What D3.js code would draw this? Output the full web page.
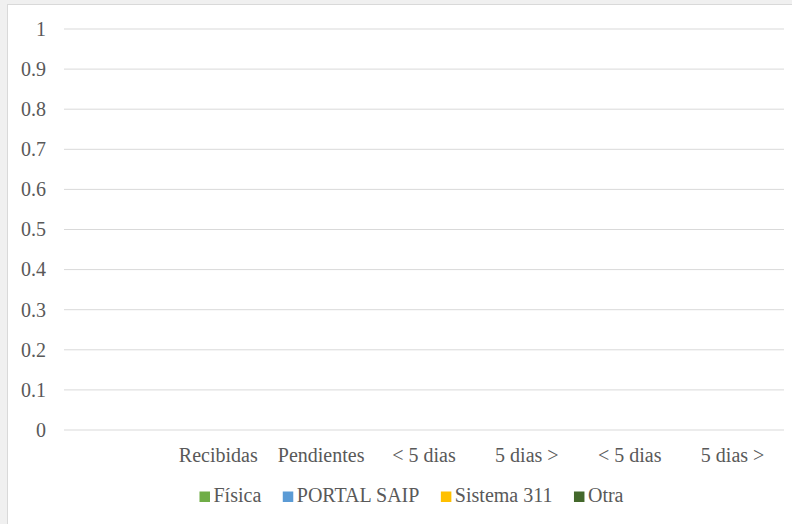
<!DOCTYPE html>
<html><head><meta charset="utf-8">
<script src="https://cdn.jsdelivr.net/npm/d3@7"></script>
<style>
html,body{margin:0;padding:0;background:#f0f0f0;}
svg{display:block;}
</style></head>
<body>
<script>
const categories = ["", "Recibidas", "Pendientes", "< 5 dias", "5 dias >", "< 5 dias", "5 dias >"];
const seriesNames = ["Física", "PORTAL SAIP", "Sistema 311", "Otra"];
const seriesColors = ["#70AD47", "#5B9BD5", "#FFC000", "#43682B"];
const fisica = [0, 0, 0, 0, 0, 0, 0];
const portalSaip = [0, 0, 0, 0, 0, 0, 0];
const sistema311 = [0, 0, 0, 0, 0, 0, 0];
const otra = [0, 0, 0, 0, 0, 0, 0];
const yTicks = [0, 0.1, 0.2, 0.3, 0.4, 0.5, 0.6, 0.7, 0.8, 0.9, 1];

const seriesValues = [fisica, portalSaip, sistema311, otra];
const W = 792, H = 524;
const FONT = "'Liberation Serif', 'Times New Roman', serif";
const FS = "20px";
const TXT = "#595959";

const svg = d3.select("body").append("svg").attr("width", W).attr("height", H);
svg.append("rect").attr("x", 0).attr("y", 0).attr("width", W).attr("height", H).attr("fill", "#f0f0f0");
svg.append("rect").attr("x", 7.5).attr("y", 4.5).attr("width", W).attr("height", H)
  .attr("fill", "#ffffff").attr("stroke", "#d9d9d9").attr("stroke-width", 1);

const plot = {left: 64, right: 784, top: 28.5, bottom: 429.5};
const x = d3.scaleBand().domain(d3.range(categories.length)).range([plot.left, plot.right]).paddingInner(0).paddingOuter(0);
const y = d3.scaleLinear().domain([0, 1]).range([plot.bottom, plot.top]);
const xs = d3.scaleBand().domain(d3.range(seriesNames.length)).range([0, x.bandwidth()]).padding(0.2);

// gridlines
const yAxis = d3.axisLeft(y).tickValues(yTicks).tickSize(-(plot.right - plot.left)).tickPadding(18)
  .tickFormat(d => d3.format("")(+d.toFixed(1)));
const ga = svg.append("g").attr("transform", `translate(${plot.left},0)`).call(yAxis);
ga.select(".domain").remove();
ga.selectAll(".tick line").attr("stroke", "#d9d9d9").attr("stroke-width", 1);
ga.selectAll(".tick text").attr("fill", TXT).style("font-family", FONT).style("font-size", FS).attr("dy", "0.34em");

// bars (all zero)
const groups = svg.append("g").selectAll("g").data(seriesValues).join("g").attr("fill", (d, i) => seriesColors[i]);
groups.each(function(vals, si) {
  d3.select(this).selectAll("rect").data(vals).join("rect")
    .attr("x", (v, ci) => x(ci) + xs(si))
    .attr("width", xs.bandwidth())
    .attr("y", v => y(v))
    .attr("height", v => y(0) - y(v));
});

// x axis labels
const xAxis = d3.axisBottom(x).tickSize(0).tickPadding(0).tickFormat(i => categories[i]);
const gx = svg.append("g").attr("transform", `translate(0,${plot.bottom})`).call(xAxis);
gx.select(".domain").remove();
gx.selectAll(".tick text").attr("fill", TXT).style("font-family", FONT).style("font-size", FS)
  .attr("y", 0).attr("dy", 0).attr("transform", "translate(0,32)");

// legend
const leg = svg.append("g");
const items = leg.selectAll("g").data(seriesNames).join("g");
items.append("rect").attr("width", 10.5).attr("height", 10.5).attr("y", -10.5).attr("fill", (d, i) => seriesColors[i]);
items.append("text").text(d => d).attr("x", 14).attr("y", 0).attr("fill", TXT)
  .style("font-family", FONT).style("font-size", FS);
let cx = 0;
const offsets = [];
items.each(function() {
  const w = d3.select(this).select("text").node().getComputedTextLength();
  offsets.push(cx);
  cx += 14 + w + 21.5;
});
const total = cx - 21.5;
const startX = 411.5 - total / 2;
items.attr("transform", (d, i) => `translate(${startX + offsets[i]},502)`);
</script>
</body></html>
